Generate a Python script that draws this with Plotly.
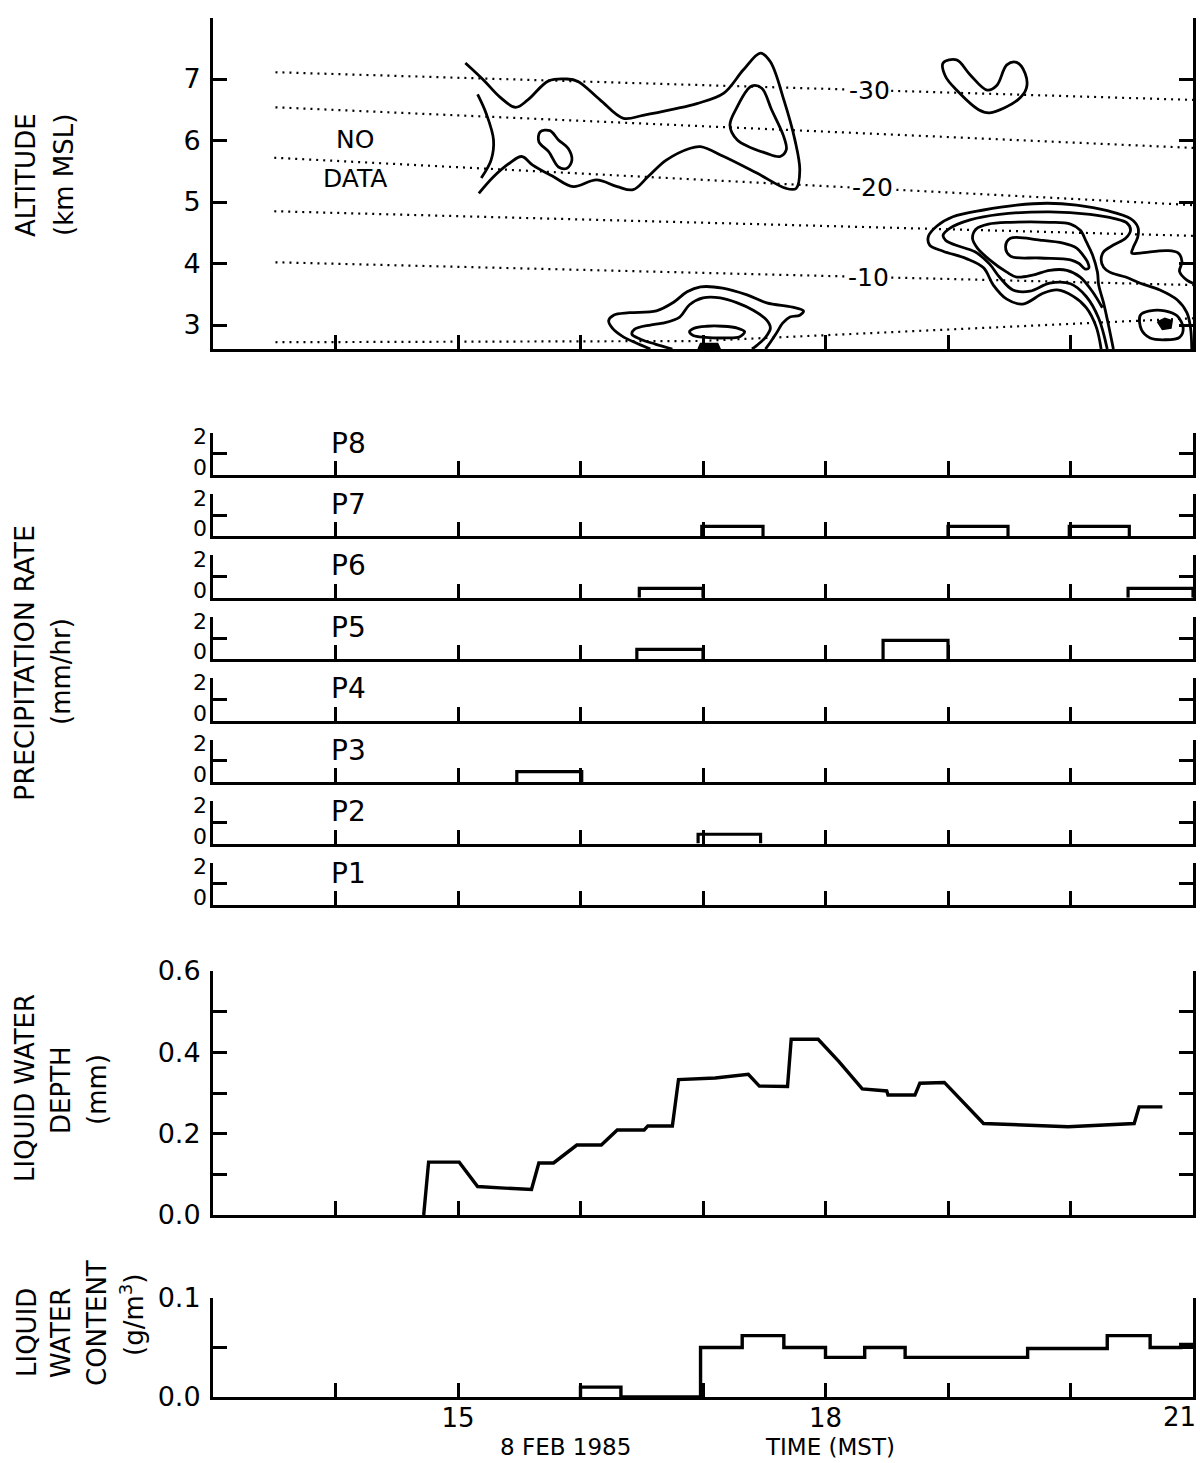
import plotly.graph_objects as go

# ---------------------------------------------------------------
# Time axis: hours MST, 8 Feb 1985
# ---------------------------------------------------------------
T_RANGE = [13.0, 21.0]
HOUR_TICKS = [14, 15, 16, 17, 18, 19, 20]
TIME_LABEL_TICKS = [15, 18]
TIME_LABEL_TEXT = ["15", "18"]
TIME_MINOR_TICKS = [14, 16, 17, 19, 20, 21]
TIME_END_LABEL = "21"

# ---------------------------------------------------------------
# Isotherms (deg C): time (h) and altitude (km MSL) along each line
# ---------------------------------------------------------------
iso_t_m30 = [13.51, 21.0]
iso_z_m30 = [7.11, 6.66]
iso_t_m25 = [13.51, 21.0]
iso_z_m25 = [6.54, 5.88]
iso_t_m20 = [13.50, 21.0]
iso_z_m20 = [5.72, 4.95]
iso_t_m15 = [13.50, 21.0]
iso_z_m15 = [4.85, 4.45]
iso_t_m10 = [13.51, 21.0]
iso_z_m10 = [4.02, 3.65]
iso_t_m5 = [13.51, 16.97, 21.0]
iso_z_m5 = [2.72, 2.74, 3.11]

iso_labels = ["-30", "-20", "-10"]
iso_label_t = [18.36, 18.38, 18.35]
iso_label_z = [6.82, 5.23, 3.78]

# ---------------------------------------------------------------
# Hand-analysed contours: time (h) / altitude (km MSL)
# ---------------------------------------------------------------
# upper cloud band (open on the no-data side)
band_t = [15.06, 15.21, 15.34, 15.47, 15.57, 15.74, 15.89, 15.98, 16.16, 16.35,
          16.51, 16.76, 16.95, 17.17, 17.33, 17.47, 17.55, 17.66, 17.75, 17.79,
          17.76, 17.68, 17.44, 17.17, 16.98, 16.89, 16.70, 16.55, 16.43, 16.30,
          16.13, 15.94, 15.78, 15.61, 15.52, 15.42, 15.29, 15.17]
band_z = [7.26, 6.98, 6.71, 6.54, 6.66, 6.97, 7.00, 6.96, 6.66, 6.36,
          6.41, 6.51, 6.60, 6.77, 7.15, 7.42, 7.28, 6.66, 6.01, 5.52,
          5.22, 5.22, 5.47, 5.74, 5.90, 5.87, 5.68, 5.41, 5.20, 5.25,
          5.36, 5.25, 5.41, 5.60, 5.74, 5.63, 5.41, 5.14]
edge_t = [15.16, 15.23, 15.29, 15.27, 15.19]
edge_z = [6.75, 6.44, 6.01, 5.68, 5.39]
cell_a_t = [15.67, 15.75, 15.82, 15.90, 15.93, 15.89, 15.82, 15.74, 15.66, 15.67]
cell_a_z = [6.14, 6.16, 6.01, 5.87, 5.68, 5.55, 5.57, 5.82, 5.98, 6.14]
cell_b_t = [17.40, 17.48, 17.56, 17.66, 17.68, 17.63, 17.52, 17.28, 17.22, 17.28, 17.36, 17.40]
cell_b_z = [6.89, 6.85, 6.50, 6.06, 5.85, 5.74, 5.79, 6.01, 6.25, 6.55, 6.82, 6.89]
cell_c_t = [18.96, 19.07, 19.18, 19.32, 19.40, 19.48, 19.56, 19.63, 19.64, 19.57,
            19.34, 19.25, 19.07, 18.98, 18.96]
cell_c_z = [7.26, 7.31, 7.07, 6.82, 6.90, 7.23, 7.27, 7.09, 6.85, 6.66,
            6.45, 6.50, 6.82, 7.04, 7.26]

# late-afternoon storm (nested levels)
storm1_t = [20.25, 20.21, 20.13, 20.02, 19.89, 19.78, 19.61, 19.48, 19.37, 19.29,
            19.15, 18.96, 18.85, 18.84, 18.91, 19.04, 19.29, 19.56, 19.81, 20.05,
            20.30, 20.49, 20.55, 20.55, 20.51, 20.50, 20.57, 20.79, 20.88, 20.91,
            20.89, 20.95, 21.0]
storm1_z = [2.61, 2.97, 3.28, 3.47, 3.57, 3.52, 3.34, 3.42, 3.65, 3.93,
            4.08, 4.20, 4.30, 4.44, 4.61, 4.76, 4.87, 4.95, 4.98, 4.95,
            4.86, 4.73, 4.59, 4.44, 4.25, 4.17, 4.17, 4.21, 4.17, 4.03,
            3.87, 3.73, 3.68]
storm2_t = [20.30, 20.23, 20.13, 20.00, 19.83, 19.67, 19.53, 19.42, 19.34, 19.22,
            19.06, 18.98, 18.96, 19.02, 19.18, 19.42, 19.83, 20.16, 20.36, 20.46,
            20.49, 20.45, 20.35, 20.27, 20.25, 20.27, 20.32, 20.45, 20.57, 20.73,
            20.87, 20.95, 20.98, 20.99]
storm2_z = [2.61, 3.11, 3.46, 3.67, 3.68, 3.55, 3.57, 3.78, 3.99, 4.19,
            4.30, 4.38, 4.46, 4.58, 4.71, 4.80, 4.84, 4.80, 4.73, 4.66,
            4.54, 4.41, 4.30, 4.19, 4.06, 3.94, 3.86, 3.78, 3.68, 3.57,
            3.41, 3.20, 2.95, 2.61]
storm3_t = [20.35, 20.31, 20.27, 20.23, 20.22, 20.18, 20.13, 20.08, 20.00, 19.83,
            19.51, 19.33, 19.23, 19.20, 19.24, 19.34, 19.48, 19.56, 19.69, 19.83,
            19.97, 20.08, 20.18, 20.26]
storm3_z = [2.61, 3.00, 3.36, 3.65, 3.86, 4.14, 4.35, 4.54, 4.64, 4.67,
            4.67, 4.64, 4.56, 4.41, 4.25, 4.06, 3.86, 3.78, 3.81, 3.89,
            3.89, 3.78, 3.54, 3.28]
storm4_t = [19.51, 19.75, 19.94, 20.05, 20.10, 20.14, 20.15, 20.12, 20.07, 20.00,
            19.75, 19.51, 19.47, 19.51]
storm4_z = [4.41, 4.38, 4.33, 4.25, 4.14, 4.02, 3.93, 3.91, 4.00, 4.06,
            4.09, 4.12, 4.27, 4.41]
core_t = [20.57, 20.65, 20.77, 20.87, 20.92, 20.89, 20.77, 20.65, 20.58, 20.57]
core_z = [3.16, 3.23, 3.23, 3.15, 2.95, 2.80, 2.76, 2.79, 2.92, 3.16]
core_max_t = [20.71, 20.77, 20.83, 20.82, 20.75, 20.71]
core_max_z = [3.05, 3.11, 3.07, 2.95, 2.93, 3.05]

# low-level echo near 17 h
low1_t = [16.57, 16.45, 16.34, 16.26, 16.23, 16.27, 16.40, 16.62, 16.76, 16.87,
          16.98, 17.16, 17.36, 17.52, 17.73, 17.82, 17.79, 17.71, 17.65, 17.60,
          17.55, 17.51]
low1_z = [2.61, 2.71, 2.82, 2.95, 3.07, 3.16, 3.20, 3.23, 3.37, 3.54,
          3.62, 3.60, 3.49, 3.36, 3.29, 3.23, 3.16, 3.13, 3.03, 2.87,
          2.72, 2.61]
low2_t = [16.75, 16.61, 16.49, 16.42, 16.44, 16.57, 16.67, 16.81, 16.89, 17.00,
          17.14, 17.28, 17.41, 17.52, 17.55, 17.51, 17.44, 17.40]
low2_z = [2.61, 2.69, 2.77, 2.85, 2.93, 3.00, 3.03, 3.13, 3.33, 3.44,
          3.44, 3.36, 3.24, 3.08, 2.95, 2.80, 2.67, 2.61]
low3_t = [16.89, 16.93, 17.03, 17.16, 17.28, 17.34, 17.30, 17.18, 17.02, 16.92, 16.89]
low3_z = [2.89, 2.95, 2.98, 2.98, 2.95, 2.89, 2.81, 2.79, 2.80, 2.83, 2.89]
low_base_t = [16.96, 16.98, 17.12, 17.14, 16.96]
low_base_z = [2.61, 2.70, 2.70, 2.61, 2.61]

# ---------------------------------------------------------------
# Precipitation gauges: (start h, end h, rate mm/hr)
# ---------------------------------------------------------------
gauge_names = ["P8", "P7", "P6", "P5", "P4", "P3", "P2", "P1"]
p8_events = []
p7_events = [(16.99, 17.49, 0.47), (19.00, 19.49, 0.47), (19.99, 20.48, 0.47)]
p6_events = [(16.48, 17.00, 0.45), (20.47, 21.00, 0.45)]
p5_events = [(16.46, 17.00, 0.47), (18.47, 19.00, 0.89)]
p4_events = []
p3_events = [(15.48, 16.01, 0.50)]
p2_events = [(16.96, 17.47, 0.44)]
p1_events = []
gauge_events = [p8_events, p7_events, p6_events, p5_events,
                p4_events, p3_events, p2_events, p1_events]

# ---------------------------------------------------------------
# Radiometer liquid water depth (mm)
# ---------------------------------------------------------------
lwd_t = [14.72, 14.76, 15.01, 15.16, 15.38, 15.60, 15.66, 15.78, 15.97, 16.17,
         16.30, 16.52, 16.55, 16.75, 16.80, 17.10, 17.37, 17.46, 17.69, 17.72,
         17.94, 18.11, 18.30, 18.50, 18.51, 18.73, 18.77, 18.97, 19.29, 19.57,
         19.98, 20.52, 20.56, 20.75]
lwd_v = [0.0, 0.13, 0.13, 0.07, 0.066, 0.063, 0.128, 0.128, 0.172, 0.172,
         0.209, 0.209, 0.219, 0.219, 0.333, 0.337, 0.346, 0.317, 0.316, 0.432,
         0.432, 0.377, 0.31, 0.305, 0.295, 0.295, 0.324, 0.326, 0.225, 0.221,
         0.217, 0.225, 0.266, 0.266]

# ---------------------------------------------------------------
# Aircraft liquid water content (g/m3), piecewise constant
# ---------------------------------------------------------------
lwc_start = [16.00, 16.98, 17.32, 17.66, 18.00, 18.32, 18.65, 19.65, 20.30, 20.65, 20.90]
lwc_end = [16.33, 17.32, 17.66, 18.00, 18.32, 18.65, 19.65, 20.30, 20.65, 20.90, 21.00]
lwc_val = [0.010, 0.050, 0.062, 0.050, 0.040, 0.050, 0.040, 0.049, 0.062, 0.050, 0.053]

# ---------------------------------------------------------------
# Figure geometry
# ---------------------------------------------------------------
W, H = 1200, 1463
FONT = "DejaVu Sans"
XDOM = [213 / W, 1193 / W]


def ydom(top_px, bottom_px):
    return [1 - bottom_px / H, 1 - top_px / H]


panels = [(17.5, 349.0, [2.61, 8.0])]
for i in range(8):
    bottom = 475.0 + i * 61.43
    panels.append((bottom - 42.5, bottom, [0, 2]))
panels.append((971.0, 1215.0, [0, 0.6]))
panels.append((1298.0, 1397.0, [0, 0.1]))

tick_style = dict(ticks="inside", ticklen=14, tickwidth=2.5, tickcolor="black")
axis_style = dict(showline=True, linecolor="black", linewidth=3, showgrid=False,
                  zeroline=False, automargin=False,
                  tickfont=dict(family=FONT, size=27, color="black"), **tick_style)


def minor(vals):
    return dict(tickvals=vals, showgrid=False, **tick_style)


layout = dict(width=W, height=H, margin=dict(l=0, r=0, t=0, b=0, autoexpand=False),
              paper_bgcolor="white", plot_bgcolor="white", showlegend=False)

for k, (top, bottom, yr) in enumerate(panels, start=1):
    s = "" if k == 1 else str(k)
    layout["xaxis" + s] = dict(domain=XDOM, range=T_RANGE, anchor="y" + s,
                               tickvals=HOUR_TICKS, showticklabels=False, **axis_style)
    layout["yaxis" + s] = dict(domain=ydom(top, bottom), range=yr, anchor="x" + s,
                               mirror="ticks", ticklabelstandoff=4, **axis_style)

layout["yaxis"].update(tickvals=[3, 4, 5, 6, 7], minor=minor([8]))
for k in range(2, 10):
    layout["yaxis" + str(k)].update(tickvals=[0, 1, 2], showticklabels=False)
layout["yaxis10"].update(tickvals=[0, 0.2, 0.4, 0.6], ticktext=["0.0", "0.2", "0.4", "0.6"],
                         minor=minor([0.1, 0.3, 0.5]))
layout["yaxis11"].update(tickvals=[0, 0.1], ticktext=["0.0", "0.1"], minor=minor([0.05]))
layout["xaxis11"].update(tickvals=TIME_LABEL_TICKS, ticktext=TIME_LABEL_TEXT,
                         minor=minor(TIME_MINOR_TICKS), showticklabels=True,
                         tickfont=dict(family=FONT, size=26, color="black"),
                         ticklabelstandoff=-4)

fig = go.Figure(layout=layout)


def add_line(k, t, v, width=2.6, shape="spline", dash=None, fill=None):
    s = "" if k == 1 else str(k)
    fig.add_trace(go.Scatter(
        x=t, y=v, xaxis="x" + s, yaxis="y" + s, mode="lines",
        line=dict(color="black", width=width, shape=shape, dash=dash,
                  smoothing=1.0 if shape == "spline" else None),
        fill=fill, fillcolor="black" if fill else None,
        hoverinfo="skip", showlegend=False))


# ---- top panel: isotherms ----
for t, z in [(iso_t_m30, iso_z_m30), (iso_t_m25, iso_z_m25), (iso_t_m20, iso_z_m20),
             (iso_t_m15, iso_z_m15), (iso_t_m10, iso_z_m10), (iso_t_m5, iso_z_m5)]:
    add_line(1, t, z, width=2.2, shape="linear", dash="2px,5px")

# ---- top panel: contours ----
for t, z in [(band_t, band_z), (edge_t, edge_z), (cell_a_t, cell_a_z),
             (cell_b_t, cell_b_z), (cell_c_t, cell_c_z),
             (storm1_t, storm1_z), (storm2_t, storm2_z), (storm3_t, storm3_z),
             (storm4_t, storm4_z), (core_t, core_z),
             (low1_t, low1_z), (low2_t, low2_z), (low3_t, low3_z)]:
    add_line(1, t, z, width=2.8)
add_line(1, core_max_t, core_max_z, width=1.5, shape="linear", fill="toself")
add_line(1, low_base_t, low_base_z, width=1.5, shape="linear", fill="toself")

# ---- precipitation gauges ----
for i, events in enumerate(gauge_events):
    k = 2 + i
    xs, ys = [], []
    for s, e, r in events:
        xs += [s, s, e, e, None]
        ys += [0, r, r, 0, None]
    if xs:
        add_line(k, xs, ys, width=3.2, shape="linear")

# ---- liquid water depth ----
add_line(10, lwd_t, lwd_v, width=3.4, shape="linear")

# ---- liquid water content (step trace) ----
lwc_x, lwc_y = [], []
prev_end = None
for s, e, v in zip(lwc_start, lwc_end, lwc_val):
    if prev_end is None or abs(s - prev_end) > 1e-9:
        if prev_end is not None:
            lwc_x.append(prev_end)
            lwc_y.append(0)
        lwc_x.append(s)
        lwc_y.append(0)
    lwc_x += [s, e]
    lwc_y += [v, v]
    prev_end = e
add_line(11, lwc_x, lwc_y, width=3.4, shape="linear")

# ---------------------------------------------------------------
# Text
# ---------------------------------------------------------------
ann = []


def text(x, y, s, size=26, angle=0, xref="paper", yref="paper", xanchor="center",
         yanchor="middle", bg=None):
    d = dict(x=x, y=y, text=s, xref=xref, yref=yref, showarrow=False,
             xanchor=xanchor, yanchor=yanchor, textangle=angle,
             font=dict(family=FONT, size=size, color="black"))
    if bg:
        d.update(bgcolor=bg, borderpad=0)
    ann.append(d)


def px(xp):
    return xp / W


def py(yp):
    return 1 - yp / H


# axis titles
text(px(26), py(175), "ALTITUDE", angle=-90)
text(px(64), py(175), "(km MSL)", angle=-90)
text(px(24), py(663), "PRECIPITATION RATE", size=27, angle=-90)
text(px(61), py(672), "(mm/hr)", angle=-90)
text(px(25), py(1088), "LIQUID WATER", angle=-90)
text(px(61), py(1090), "DEPTH", angle=-90)
text(px(97), py(1089), "(mm)", angle=-90)
text(px(27), py(1333), "LIQUID", angle=-90)
text(px(61), py(1333), "WATER", angle=-90)
text(px(97), py(1323), "CONTENT", angle=-90)
text(px(132), py(1315), "(g/m<sup>3</sup>)", angle=-90)

# end-of-axis time label, kept inside the page edge
text(px(1198), py(1417), TIME_END_LABEL, size=26, xanchor="right")

# no-data region
text(14.16, 6.01, "NO", size=25, xref="x", yref="y")
text(14.16, 5.39, "DATA", size=25, xref="x", yref="y")

# isotherm labels
for lab, t, z in zip(iso_labels, iso_label_t, iso_label_z):
    text(t, z, lab, size=25, xref="x", yref="y", bg="white")

# gauge labels and rate scale labels
for i, name in enumerate(gauge_names):
    s = str(2 + i)
    text(13.95, 1.5, name, size=28, xref="x" + s, yref="y" + s, xanchor="left")
    text(px(209), 1.8, "2", size=22, yref="y" + s, xanchor="right")
    text(px(209), 0.35, "0", size=22, yref="y" + s, xanchor="right")

# time axis caption
text(px(565), py(1447), "8 FEB 1985", size=23)
text(px(830), py(1447), "TIME (MST)", size=23)

fig.update_layout(annotations=ann)
fig.write_html("out.html")
